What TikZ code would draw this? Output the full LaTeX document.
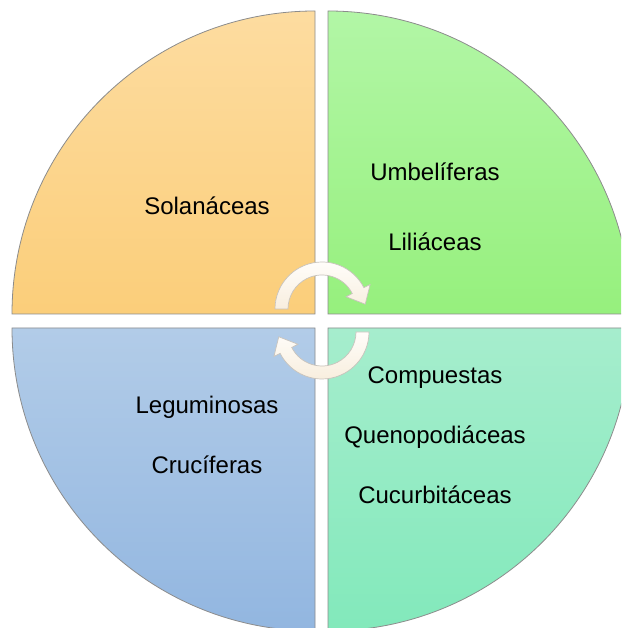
\documentclass[tikz,border=0pt]{standalone}
\usepackage{fontspec}
\setmainfont{Liberation Sans}
\usetikzlibrary{calc}
\definecolor{tlTop}{RGB}{253,220,160}
\definecolor{tlBot}{RGB}{251,206,122}
\definecolor{trTop}{RGB}{178,246,166}
\definecolor{trBot}{RGB}{150,240,125}
\definecolor{brTop}{RGB}{166,237,205}
\definecolor{brBot}{RGB}{130,233,187}
\definecolor{blTop}{RGB}{178,204,232}
\definecolor{blBot}{RGB}{146,182,224}
\definecolor{edge}{RGB}{140,140,140}
\definecolor{arrTop}{RGB}{255,253,250}
\definecolor{arrBot}{RGB}{248,238,222}
\definecolor{arrEdge}{RGB}{200,195,188}
\tikzset{
  quad/.style={draw=edge, line width=0.8pt},
  cyclearrow/.style={draw=arrEdge, line width=0.7pt, top color=arrTop, bottom color=arrBot},
  label/.style={anchor=base, inner sep=0pt, font=\fontsize{24}{29}\selectfont}
}
\begin{document}
\begin{tikzpicture}[x=1pt,y=1pt]
\useasboundingbox (0,0) rectangle (621,628);
\clip (0,0) rectangle (621,628);
\fill[white] (0,0) rectangle (621,628);
% quadrants
\path[quad, top color=tlTop, bottom color=tlBot]
  (315,314) -- ++(-303,0) arc[start angle=180, end angle=90, radius=303] -- cycle;
\path[quad, top color=trTop, bottom color=trBot]
  (328,314) -- ++(0,303) arc[start angle=90, end angle=0, radius=303] -- cycle;
\path[quad, top color=brTop, bottom color=brBot]
  (328,300) -- ++(303,0) arc[start angle=0, end angle=-90, radius=303] -- cycle;
\path[quad, top color=blTop, bottom color=blBot]
  (315,300) -- ++(0,-303) arc[start angle=-90, end angle=-180, radius=303] -- cycle;
% cycle arrows
\begin{scope}[shift={(322,319)}]
  \path[cyclearrow] (180:47) arc[start angle=180, end angle=27, radius=47]
    -- (27:54) -- (43.2,4.8) -- (27:27) -- (27:34)
    arc[start angle=27, end angle=180, radius=34] -- cycle;
\end{scope}
\begin{scope}[shift={(322,296)}, rotate=180]
  \path[cyclearrow] (180:47) arc[start angle=180, end angle=27, radius=47]
    -- (27:54) -- (43.2,4.8) -- (27:27) -- (27:34)
    arc[start angle=27, end angle=180, radius=34] -- cycle;
\end{scope}
% labels
\node[label] (sol) at (207,413) {Solanáceas};
\node[label] (umb) at (435,447) {Umbelíferas};
\node[label] (lil) at (435,377) {Liliáceas};
\node[label] (com) at (435,244) {Compuestas};
\node[label] (que) at (435,184) {Quenopodiáceas};
\node[label] (cuc) at (435,124) {Cucurbitáceas};
\node[label] (leg) at (207,214) {Leguminosas};
\node[label] (cru) at (207,154) {Crucíferas};
\end{tikzpicture}
\end{document}
